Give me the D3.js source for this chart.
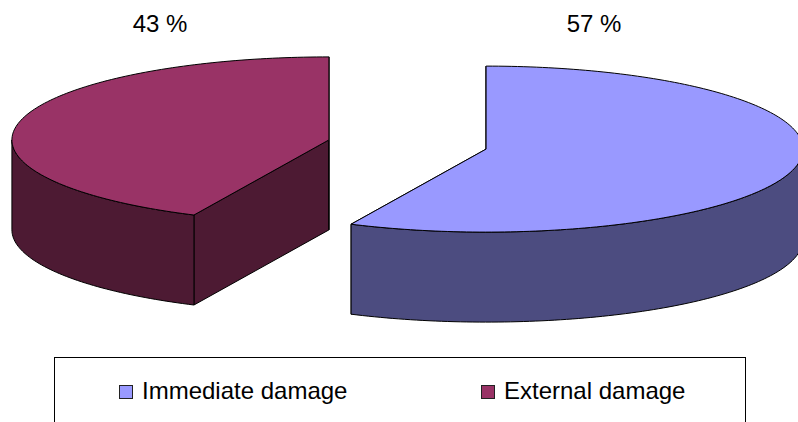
<!DOCTYPE html>
<html>
<head>
<meta charset="utf-8">
<script src="https://cdn.jsdelivr.net/npm/d3@7"></script>
<style>
  html, body { margin: 0; padding: 0; background: #fff; }
  svg { display: block; }
  text { font-family: "Liberation Sans", Arial, sans-serif; }
</style>
</head>
<body>
<svg id="chart" width="798" height="422"></svg>
<script>
// ---- data ----
const categories = ["Immediate damage", "External damage"];
const values = [57, 43];
const labels = ["57 %", "43 %"];
const topColors = ["#9999FF", "#993366"];
const sideColors = ["#4C4C80", "#4D1A33"];

// ---- layout ----
const cx = 407.5, cy = 144.5;   // pie centre (before explosion)
const rx = 317, ry = 83;        // projected ellipse radii
const depth = 90;               // thickness of the pie
const explode = 0.254;          // explosion as fraction of radius
const labelPos = [[594, 32], [160, 32]];

const svg = d3.select("#chart");

const pie = d3.pie().sort(null).value(d => d).startAngle(0).endAngle(2 * Math.PI);
const arcs = pie(values);

function pt(c, a, dy = 0) {
  return [c[0] + rx * Math.sin(a), c[1] - ry * Math.cos(a) + dy];
}
function arcPts(c, a0, a1, dy = 0) {
  const n = Math.max(2, Math.ceil(Math.abs(a1 - a0) / 0.02));
  return d3.range(n + 1).map(i => pt(c, a0 + (a1 - a0) * i / n, dy));
}
const line = d3.line();

function face(g, pts, fill) {
  g.append("path").attr("d", line(pts) + "Z")
    .attr("fill", fill)
    .attr("stroke", "#000").attr("stroke-width", 1).attr("stroke-linejoin", "round");
}

const gPie = svg.append("g");

arcs.forEach((d, i) => {
  const mid = (d.startAngle + d.endAngle) / 2;
  const c = [cx + explode * rx * Math.sin(mid), cy - explode * ry * Math.cos(mid)];
  const g = gPie.append("g");

  // radial cut faces
  [d.startAngle, d.endAngle].forEach(a => {
    const p = pt(c, a);
    face(g, [c, p, [p[0], p[1] + depth], [c[0], c[1] + depth]], sideColors[i]);
  });

  // outer side (front half only)
  const s0 = Math.max(d.startAngle, Math.PI / 2);
  const s1 = Math.min(d.endAngle, 3 * Math.PI / 2);
  if (s1 > s0) {
    face(g, arcPts(c, s0, s1).concat(arcPts(c, s1, s0, depth)), sideColors[i]);
  }

  // top face
  face(g, [c].concat(arcPts(c, d.startAngle, d.endAngle)), topColors[i]);

  // percentage label
  svg.append("text")
    .attr("x", labelPos[i][0]).attr("y", labelPos[i][1])
    .attr("text-anchor", "middle")
    .attr("font-size", 24).attr("fill", "#000")
    .text(labels[i]);
});

// ---- legend ----
const legend = svg.append("g");
legend.append("rect")
  .attr("x", 54.5).attr("y", 357.5).attr("width", 691).attr("height", 100)
  .attr("fill", "#fff").attr("stroke", "#000").attr("stroke-width", 1);

const legendX = [119, 481];
categories.forEach((name, i) => {
  legend.append("rect")
    .attr("x", legendX[i] + 0.5).attr("y", 385.5).attr("width", 13).attr("height", 13)
    .attr("fill", topColors[i]).attr("stroke", "#222").attr("stroke-width", 1);
  legend.append("text")
    .attr("x", legendX[i] + 23).attr("y", 399)
    .attr("font-size", 24).attr("fill", "#000")
    .text(name);
});
</script>
</body>
</html>
